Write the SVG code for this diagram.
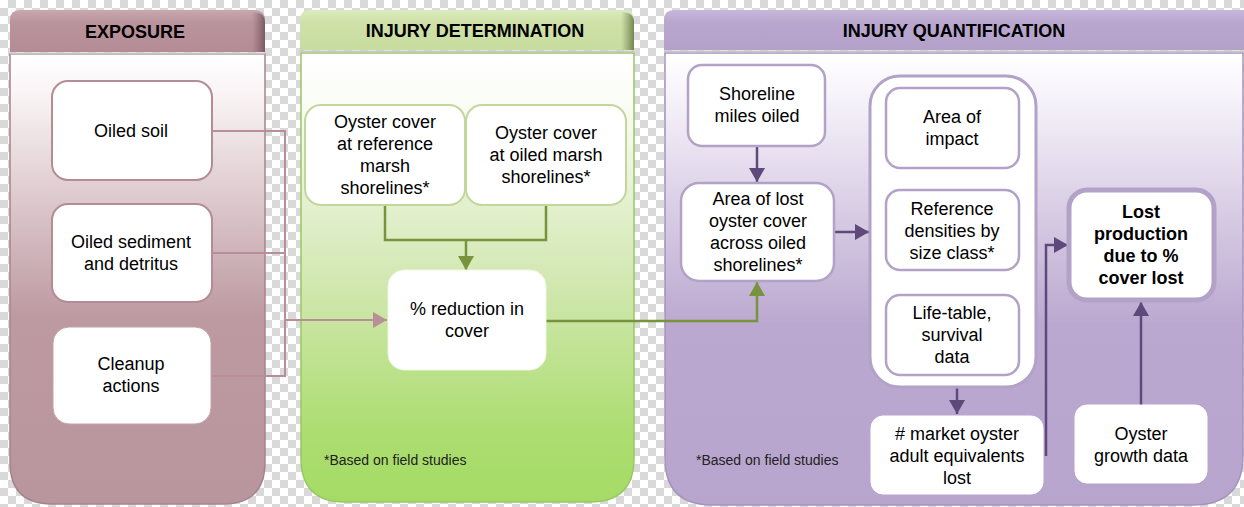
<svg xmlns="http://www.w3.org/2000/svg" width="1244" height="507" viewBox="0 0 1244 507">
<defs>
<pattern id="checker" x="0" y="0" width="16" height="16" patternUnits="userSpaceOnUse">
<rect width="16" height="16" fill="#ffffff"/>
<rect x="8" y="0" width="8" height="8" fill="#d9d9d9"/>
<rect x="0" y="8" width="8" height="8" fill="#d9d9d9"/>
</pattern>
<linearGradient id="g1" x1="0" y1="55" x2="0" y2="505" gradientUnits="userSpaceOnUse">
<stop offset="0" stop-color="#ffffff"/>
<stop offset="0.08" stop-color="#faf5f6"/>
<stop offset="0.58" stop-color="#bd9aa2"/>
<stop offset="1" stop-color="#b9959e"/>
</linearGradient>
<linearGradient id="g2" x1="0" y1="53" x2="0" y2="500" gradientUnits="userSpaceOnUse">
<stop offset="0" stop-color="#ffffff"/>
<stop offset="0.1" stop-color="#fbfdf7"/>
<stop offset="0.5" stop-color="#d3e8b3"/>
<stop offset="0.85" stop-color="#acdd70"/>
<stop offset="1" stop-color="#a6dc66"/>
</linearGradient>
<linearGradient id="g3" x1="0" y1="53" x2="0" y2="505" gradientUnits="userSpaceOnUse">
<stop offset="0" stop-color="#ffffff"/>
<stop offset="0.08" stop-color="#f8f5fb"/>
<stop offset="0.6" stop-color="#bba8d0"/>
<stop offset="1" stop-color="#b8a5cd"/>
</linearGradient>
<linearGradient id="h1" x1="0" y1="0" x2="0" y2="1">
<stop offset="0" stop-color="#c9a7af"/>
<stop offset="0.3" stop-color="#ba949d"/>
<stop offset="1" stop-color="#b38c95"/>
</linearGradient>
<linearGradient id="h2" x1="0" y1="0" x2="0" y2="1">
<stop offset="0" stop-color="#dcebbd"/>
<stop offset="0.3" stop-color="#cfe1a8"/>
<stop offset="1" stop-color="#c8dc9f"/>
</linearGradient>
<linearGradient id="h3" x1="0" y1="0" x2="0" y2="1">
<stop offset="0" stop-color="#c7b7da"/>
<stop offset="0.3" stop-color="#b9a7cf"/>
<stop offset="1" stop-color="#b4a1ca"/>
</linearGradient>
<linearGradient id="edge1" x1="0" y1="0" x2="1" y2="0">
<stop offset="0" stop-color="#7d5a62" stop-opacity="0"/>
<stop offset="1" stop-color="#6d4c54" stop-opacity="0.8"/>
</linearGradient>
<linearGradient id="edge2" x1="0" y1="0" x2="1" y2="0">
<stop offset="0" stop-color="#6d7f4c" stop-opacity="0"/>
<stop offset="1" stop-color="#5d6f3c" stop-opacity="0.8"/>
</linearGradient>
<marker id="aM" viewBox="0 0 14 16" refX="14" refY="8" markerWidth="14" markerHeight="16" markerUnits="userSpaceOnUse" orient="auto">
<path d="M0,0 L14,8 L0,16 Z" fill="#b88f99"/>
</marker>
<marker id="aG" viewBox="0 0 14 16" refX="14" refY="8" markerWidth="14" markerHeight="16" markerUnits="userSpaceOnUse" orient="auto">
<path d="M0,0 L14,8 L0,16 Z" fill="#77933c"/>
</marker>
<marker id="aP" viewBox="0 0 14 16" refX="14" refY="8" markerWidth="14" markerHeight="16" markerUnits="userSpaceOnUse" orient="auto">
<path d="M0,0 L14,8 L0,16 Z" fill="#5f497a"/>
</marker>
</defs>
<style>
text{font-family:"Liberation Sans",Arial,sans-serif;fill:#000000;}
.hd{font-size:18px;font-weight:bold;text-anchor:middle;}
.t{font-size:18px;text-anchor:middle;}
.b{font-size:18px;font-weight:bold;text-anchor:middle;}
.fn{font-size:14px;fill:#222222;}
.n1{fill:#ffffff;stroke:#b48c95;stroke-width:2;}
.n2{fill:#ffffff;stroke:#c3d69b;stroke-width:2;}
.n3{fill:#ffffff;stroke:#b3a2c7;stroke-width:2.5;}
.nw{fill:#ffffff;stroke:#ffffff;stroke-width:1;}
.c1{fill:none;stroke:#b88f99;stroke-width:2;}
.c2{fill:none;stroke:#77933c;stroke-width:2.5;}
.c3{fill:none;stroke:#5f497a;stroke-width:2.5;}
</style>
<rect width="1244" height="507" fill="url(#checker)"/>

<g id="panel-exposure">
<path d="M10,54 H265 V462 Q265,504 223,504 H52 Q10,504 10,462 Z" fill="url(#g1)" stroke="#a9838c" stroke-width="1.5"/>
<path d="M10,52 V20 Q10,10 20,10 H255 Q265,10 265,20 V52 Z" fill="url(#h1)"/>
<path d="M252,12 Q265,12 265,22 V52 H252 Z" fill="url(#edge1)"/>
<line x1="10" y1="53.5" x2="265" y2="53.5" stroke="#c8c8c8" stroke-width="2"/>
<text class="hd" x="135" y="38">EXPOSURE</text>
</g>

<g id="panel-determination">
<path d="M301,53 H634 V458 Q634,502 590,502 H345 Q301,502 301,458 Z" fill="url(#g2)" stroke="#98c863" stroke-width="1.5"/>
<path d="M300,50 V20 Q300,10 310,10 H624 Q634,10 634,20 V50 Z" fill="url(#h2)"/>
<path d="M621,12 Q634,12 634,22 V50 H621 Z" fill="url(#edge2)"/>
<line x1="300" y1="51.5" x2="634" y2="51.5" stroke="#c8c8c8" stroke-width="2"/>
<text class="hd" x="475" y="37">INJURY  DETERMINATION</text>
<text class="fn" x="324" y="465">*Based on field studies</text>
</g>

<g id="panel-quantification">
<path d="M665,53 H1243 V455 Q1243,505 1193,505 H712 Q665,505 665,458 Z" fill="url(#g3)" stroke="#a593bd" stroke-width="1.5"/>
<path d="M664,50 V20 Q664,10 674,10 H1244 V50 Z" fill="url(#h3)"/>
<line x1="664" y1="51.5" x2="1244" y2="51.5" stroke="#c8c8c8" stroke-width="2"/>
<text class="hd" x="954" y="37">INJURY  QUANTIFICATION</text>
<text class="fn" x="696" y="465">*Based on field studies</text>
</g>

<g id="connectors">
<path class="c1" d="M212,131 H285 V376 H212"/>
<path class="c1" d="M212,253 H285"/>
<path class="c1" d="M285,320 H387" marker-end="url(#aM)"/>
<path class="c2" d="M385,205 V240 H546 V205"/>
<path class="c2" d="M466,240 V270" marker-end="url(#aG)"/>
<path class="c2" d="M546,321 H757 V282" marker-end="url(#aG)"/>
<path class="c3" d="M757,146 V182" marker-end="url(#aP)"/>
<path class="c3" d="M834,232 H869" marker-end="url(#aP)"/>
<path class="c3" d="M957,388 V414" marker-end="url(#aP)"/>
<path class="c3" d="M1046,456 V245 H1068" marker-end="url(#aP)"/>
<path class="c3" d="M1141,405 V302" marker-end="url(#aP)"/>
</g>

<g id="oiled-soil">
<rect class="n1" x="52" y="81" width="160" height="99" rx="16"/>
<text class="t" x="131" y="137">Oiled soil</text>
</g>
<g id="oiled-sediment">
<rect class="n1" x="52" y="204" width="160" height="98" rx="16"/>
<text class="t" x="131" y="248">Oiled sediment</text>
<text class="t" x="131" y="270">and detritus</text>
</g>
<g id="cleanup-actions">
<rect x="53" y="327" width="158" height="97" rx="16" fill="#ffffff" stroke="#c2a2a9" stroke-width="1"/>
<text class="t" x="131" y="370">Cleanup</text>
<text class="t" x="131" y="392">actions</text>
</g>

<g id="oyster-cover-reference">
<rect class="n2" x="305" y="105" width="160" height="100" rx="16"/>
<text class="t" x="385" y="128">Oyster cover</text>
<text class="t" x="385" y="150">at reference</text>
<text class="t" x="385" y="172">marsh</text>
<text class="t" x="385" y="194">shorelines*</text>
</g>
<g id="oyster-cover-oiled">
<rect class="n2" x="466" y="105" width="160" height="100" rx="16"/>
<text class="t" x="546" y="139">Oyster cover</text>
<text class="t" x="546" y="161">at oiled marsh</text>
<text class="t" x="546" y="183">shorelines*</text>
</g>
<g id="reduction-in-cover">
<rect x="388" y="270" width="158" height="100" rx="16" fill="#ffffff" stroke="#eef6e0" stroke-width="1"/>
<text class="t" x="467" y="315">% reduction in</text>
<text class="t" x="467" y="337">cover</text>
</g>

<g id="shoreline-miles">
<rect class="n3" x="688" y="65" width="137" height="81" rx="14"/>
<text class="t" x="757" y="100">Shoreline</text>
<text class="t" x="757" y="122">miles oiled</text>
</g>
<g id="area-lost-cover">
<rect class="n3" x="681" y="183" width="153" height="98" rx="18"/>
<text class="t" x="758" y="205">Area of lost</text>
<text class="t" x="758" y="227">oyster cover</text>
<text class="t" x="758" y="249">across oiled</text>
<text class="t" x="758" y="271">shorelines*</text>
</g>
<g id="inputs-group">
<rect x="870" y="76" width="166" height="311" rx="30" fill="#ffffff" stroke="#b3a2c7" stroke-width="3"/>
</g>
<g id="area-of-impact">
<rect class="n3" x="886" y="88" width="133" height="80" rx="14"/>
<text class="t" x="952" y="123">Area of</text>
<text class="t" x="952" y="145">impact</text>
</g>
<g id="reference-densities">
<rect class="n3" x="886" y="190" width="133" height="80" rx="14"/>
<text class="t" x="952" y="215">Reference</text>
<text class="t" x="952" y="237">densities by</text>
<text class="t" x="952" y="259">size class*</text>
</g>
<g id="life-table">
<rect class="n3" x="886" y="295" width="133" height="80" rx="14"/>
<text class="t" x="952" y="319">Life-table,</text>
<text class="t" x="952" y="341">survival</text>
<text class="t" x="952" y="363">data</text>
</g>
<g id="market-oyster">
<rect class="nw" x="871" y="416" width="172" height="78" rx="12"/>
<text class="t" x="957" y="440"># market oyster</text>
<text class="t" x="957" y="462">adult equivalents</text>
<text class="t" x="957" y="484">lost</text>
</g>
<g id="lost-production">
<rect x="1069" y="190" width="145" height="110" rx="18" fill="#ffffff" stroke="#b3a2c7" stroke-width="5"/>
<text class="b" x="1141" y="218">Lost</text>
<text class="b" x="1141" y="240">production</text>
<text class="b" x="1141" y="262">due to %</text>
<text class="b" x="1141" y="284">cover lost</text>
</g>
<g id="oyster-growth">
<rect class="nw" x="1075" y="405" width="132" height="78" rx="12"/>
<text class="t" x="1141" y="440">Oyster</text>
<text class="t" x="1141" y="462">growth data</text>
</g>
</svg>
